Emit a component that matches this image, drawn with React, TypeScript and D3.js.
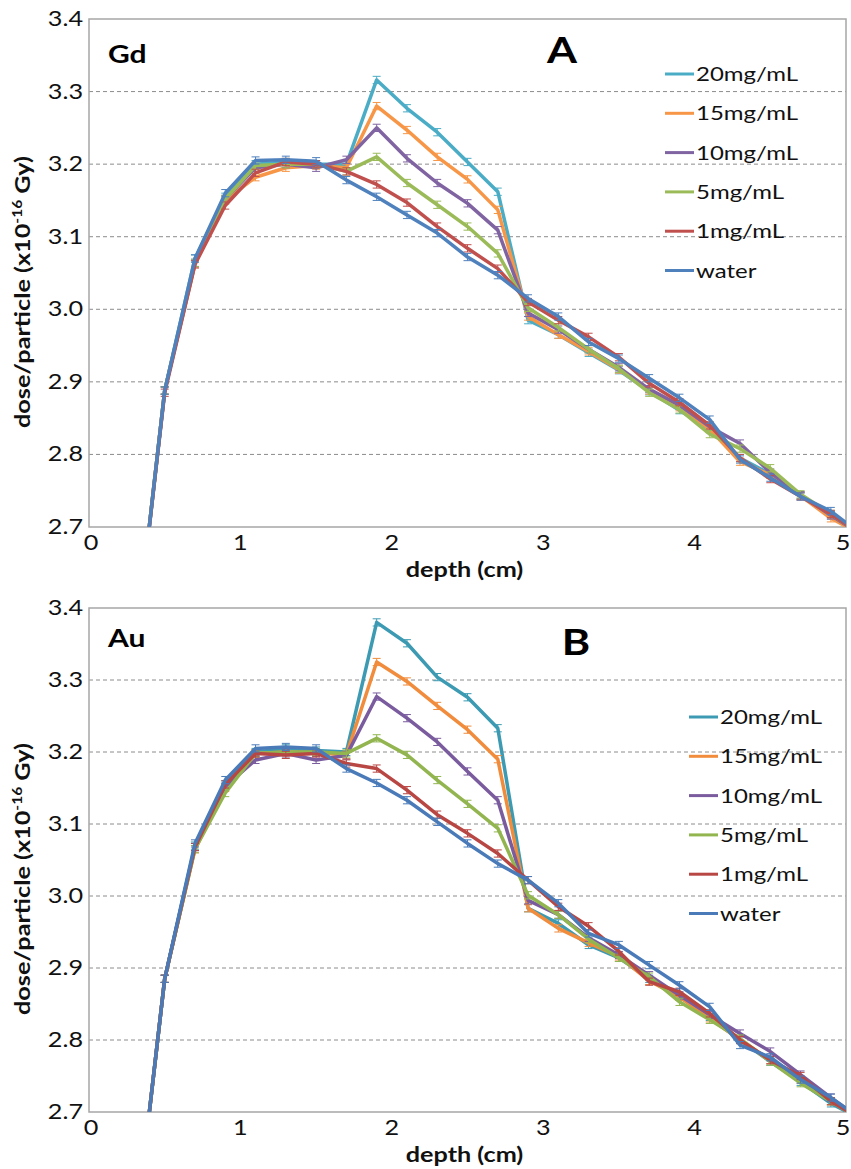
import React from 'react';
import * as d3 from 'd3';

const depths = [0.3, 0.5, 0.7, 0.9, 1.1, 1.3, 1.5, 1.7, 1.9, 2.1, 2.3, 2.5, 2.7, 2.9, 3.1, 3.3, 3.5, 3.7, 3.9, 4.1, 4.3, 4.5, 4.7, 4.9, 5.1];
const seriesNames = ['20mg/mL', '15mg/mL', '10mg/mL', '5mg/mL', '1mg/mL', 'water'];
const yTicks = [2.7, 2.8, 2.9, 3.0, 3.1, 3.2, 3.3, 3.4];
const xTicks = [0, 1, 2, 3, 4, 5];

// Gd panel (A)
const gd20 = [2.52, 2.888, 3.07, 3.155, 3.2, 3.203, 3.2, 3.2, 3.316, 3.277, 3.244, 3.203, 3.162, 2.985, 2.965, 2.94, 2.916, 2.887, 2.861, 2.835, 2.795, 2.773, 2.743, 2.716, 2.69];
const gd15 = [2.52, 2.888, 3.062, 3.15, 3.182, 3.195, 3.198, 3.195, 3.28, 3.247, 3.21, 3.179, 3.137, 2.99, 2.965, 2.942, 2.917, 2.888, 2.865, 2.835, 2.79, 2.772, 2.743, 2.712, 2.69];
const gd10 = [2.52, 2.888, 3.064, 3.152, 3.195, 3.2, 3.195, 3.206, 3.25, 3.208, 3.174, 3.146, 3.109, 2.995, 2.972, 2.945, 2.92, 2.89, 2.868, 2.838, 2.815, 2.775, 2.744, 2.716, 2.69];
const gd5 = [2.52, 2.888, 3.064, 3.152, 3.198, 3.2, 3.2, 3.19, 3.21, 3.174, 3.144, 3.114, 3.077, 3.002, 2.975, 2.945, 2.918, 2.885, 2.862, 2.828, 2.808, 2.781, 2.745, 2.718, 2.69];
const gd1 = [2.52, 2.885, 3.062, 3.143, 3.188, 3.203, 3.2, 3.19, 3.172, 3.147, 3.114, 3.084, 3.056, 3.01, 2.985, 2.962, 2.934, 2.898, 2.872, 2.84, 2.795, 2.766, 2.742, 2.718, 2.69];
const gdWater = [2.52, 2.888, 3.07, 3.16, 3.205, 3.206, 3.204, 3.178, 3.155, 3.13, 3.105, 3.072, 3.047, 3.015, 2.99, 2.955, 2.932, 2.905, 2.878, 2.848, 2.793, 2.768, 2.742, 2.722, 2.69];

// Au panel (B)
const au20 = [2.52, 2.885, 3.07, 3.155, 3.2, 3.205, 3.202, 3.2, 3.38, 3.351, 3.304, 3.276, 3.233, 2.983, 2.962, 2.932, 2.914, 2.885, 2.86, 2.832, 2.8, 2.77, 2.742, 2.712, 2.69];
const au15 = [2.52, 2.885, 3.065, 3.15, 3.198, 3.2, 3.199, 3.196, 3.325, 3.298, 3.264, 3.231, 3.19, 2.983, 2.955, 2.935, 2.916, 2.882, 2.86, 2.83, 2.8, 2.772, 2.745, 2.715, 2.69];
const au10 = [2.52, 2.885, 3.068, 3.152, 3.189, 3.198, 3.189, 3.195, 3.277, 3.247, 3.214, 3.173, 3.133, 2.994, 2.974, 2.942, 2.918, 2.89, 2.862, 2.835, 2.809, 2.784, 2.752, 2.72, 2.69];
const au5 = [2.52, 2.885, 3.065, 3.143, 3.198, 3.2, 3.2, 3.198, 3.219, 3.196, 3.161, 3.128, 3.094, 3.001, 2.974, 2.94, 2.914, 2.888, 2.853, 2.828, 2.802, 2.77, 2.74, 2.715, 2.69];
const au1 = [2.52, 2.885, 3.068, 3.155, 3.198, 3.196, 3.198, 3.184, 3.177, 3.147, 3.113, 3.087, 3.059, 3.022, 2.985, 2.958, 2.923, 2.881, 2.867, 2.837, 2.8, 2.772, 2.75, 2.715, 2.69];
const auWater = [2.52, 2.885, 3.073, 3.161, 3.205, 3.207, 3.205, 3.177, 3.157, 3.133, 3.103, 3.073, 3.045, 3.022, 2.99, 2.948, 2.932, 2.904, 2.876, 2.846, 2.793, 2.776, 2.745, 2.72, 2.69];

const errSize = 0.005;

const colorsA = ['#4bacc6', '#f79646', '#8064a2', '#9bbb59', '#c0504d', '#4f81bd'];
const colorsB = ['#3c9ab2', '#f08c3c', '#7a5c9e', '#92b550', '#b84744', '#4a7bb8'];

const FONT = 'Lato, "Open Sans", sans-serif';
const SX = 1.2; // reference text is wider than Lato

// text with a horizontal stretch around its anchor
function T({ x, y, rot = 0, children, ...rest }: any) {
  return (
    <text transform={`translate(${x},${y}) rotate(${rot}) scale(${SX},1)`} fontFamily={FONT} fill="#111" {...rest}>
      {children}
    </text>
  );
}

type PanelProps = {
  id: string;
  top: number;
  bottom: number;
  label: string;
  labelY: number;
  letter: string;
  letterX: number;
  letterY: number;
  data: number[][];
  colors: string[];
  legendY: number;
  legendX: number;
};

const left = 89;
const right = 846;

function Panel({ id, top, bottom, label, labelY, letter, letterX, letterY, data, colors, legendY, legendX }: PanelProps) {
  const x = d3.scaleLinear().domain([0, 5]).range([left, right]);
  const y = d3.scaleLinear().domain([2.7, 3.4]).range([bottom, top]);
  const line = d3.line<number>().x((_, i) => x(depths[i])).y(d => y(d));
  const mid = (top + bottom) / 2 + 19;

  return (
    <g>
      <defs>
        <clipPath id={`clip-${id}`}>
          <rect x={left} y={top} width={right - left} height={bottom - top} />
        </clipPath>
      </defs>
      {yTicks.filter(t => t > 2.7 && t < 3.4).map(t => (
        <line key={t} x1={left} x2={right} y1={y(t)} y2={y(t)} stroke="#8c8c8c" strokeWidth={1} strokeDasharray="4,3" />
      ))}
      <rect x={left} y={top} width={right - left} height={bottom - top} fill="none" stroke="#a6a6a6" strokeWidth={1.5} />
      {yTicks.map(t => (
        <T key={t} x={83} y={y(t) + 7} textAnchor="end" fontSize={21}>
          {t.toFixed(1)}
        </T>
      ))}
      {xTicks.map(t => (
        <T key={t} x={x(t) + (t === 0 ? 2 : t === 5 ? -3 : 0)} y={bottom + 23} textAnchor="middle" fontSize={21}>
          {t}
        </T>
      ))}
      <T x={x(2.5) - 3} y={bottom + 50} textAnchor="middle" fontWeight="bold" fontSize={21}>
        depth (cm)
      </T>
      <T x={30} y={mid} rot={-90} textAnchor="middle" fontWeight="bold" fontSize={21}>
        dose/particle (x10<tspan dy={-8} fontSize={13}>-16</tspan><tspan dy={8}> Gy)</tspan>
      </T>
      <T x={108} y={labelY} fontWeight="bold" fontSize={25} fill="#000">{label}</T>
      <T x={letterX} y={letterY} textAnchor="middle" fontWeight="bold" fontSize={36} fill="#000">{letter}</T>
      <g clipPath={`url(#clip-${id})`}>
        {data.map((s, si) => (
          <g key={si}>
            <path d={line(s) || ''} fill="none" stroke={colors[si]} strokeWidth={3.5} strokeLinejoin="round" />
            {s.map((v, i) => (
              <g key={i} stroke={colors[si]} strokeWidth={1}>
                <line x1={x(depths[i])} x2={x(depths[i])} y1={y(v - errSize)} y2={y(v + errSize)} />
                <line x1={x(depths[i]) - 4} x2={x(depths[i]) + 4} y1={y(v + errSize)} y2={y(v + errSize)} />
                <line x1={x(depths[i]) - 4} x2={x(depths[i]) + 4} y1={y(v - errSize)} y2={y(v - errSize)} />
              </g>
            ))}
          </g>
        ))}
      </g>
      {seriesNames.map((n, i) => (
        <g key={n}>
          <line x1={legendX} x2={legendX + 29} y1={legendY + i * 39.3} y2={legendY + i * 39.3} stroke={colors[i]} strokeWidth={3} />
          <T x={legendX + 31} y={legendY + i * 39.3 + 7} fontSize={20}>{n}</T>
        </g>
      ))}
    </g>
  );
}

export default function App() {
  const dataA = [gd20, gd15, gd10, gd5, gd1, gdWater];
  const dataB = [au20, au15, au10, au5, au1, auWater];
  return (
    <svg width={851} height={1169} style={{ position: 'absolute', left: 0, top: 0, background: '#fff' }}>
      <rect width={851} height={1169} fill="#fff" />
      <Panel id="a" top={19} bottom={527} label="Gd" labelY={63} letter="A" letterX={562} letterY={63}
        data={dataA} colors={colorsA} legendX={665} legendY={74} />
      <Panel id="b" top={608} bottom={1112} label="Au" labelY={647} letter="B" letterX={576} letterY={655}
        data={dataB} colors={colorsB} legendX={689} legendY={717} />
    </svg>
  );
}
